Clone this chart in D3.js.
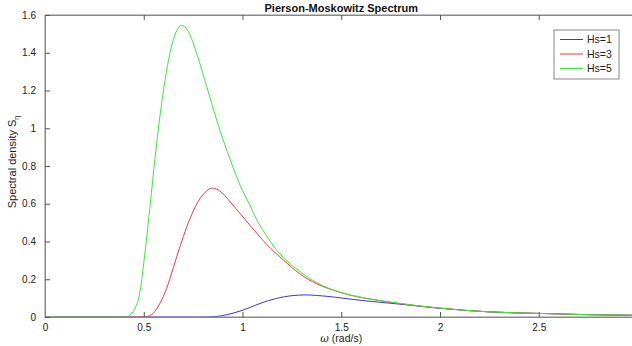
<!DOCTYPE html>
<html>
<head>
<meta charset="utf-8">
<script src="https://cdn.jsdelivr.net/npm/d3@7"></script>
<style>
  body { margin: 0; background: #fff; }
  svg { display: block; font-family: "Liberation Sans", Arial, sans-serif; }
</style>
</head>
<body>
<div id="chart"></div>
<script>
// readings, [omega (rad/s), S]
const hs1 = [[0,0],[0.80,0],[0.86,0.002],[0.92,0.012],[1.004,0.037],[1.089,0.072],[1.173,0.099],[1.25,0.113],
  [1.32,0.117],[1.376,0.114],[1.46,0.106],[1.544,0.095],[1.629,0.085],[1.797,0.068],[2.0,0.046],[2.25,0.027],
  [2.5,0.019],[2.76,0.012],[3.0,0.009]];
const hs3 = [[0,0],[0.50,0],[0.52,0.003],[0.548,0.02],[0.582,0.073],[0.616,0.152],[0.65,0.262],[0.684,0.375],
  [0.717,0.475],[0.751,0.562],[0.785,0.628],[0.819,0.668],[0.847,0.683],[0.886,0.667],[0.937,0.611],[0.987,0.549],
  [1.038,0.486],[1.122,0.385],[1.207,0.302],[1.291,0.228],[1.376,0.176],[1.46,0.142],[1.544,0.116],[1.629,0.098],
  [1.797,0.071],[2.0,0.047],[2.25,0.027],[2.5,0.019],[2.76,0.012],[3.0,0.009]];
const hs5 = [[0,0],[0.41,0],[0.425,0.005],[0.447,0.03],[0.481,0.135],[0.506,0.34],[0.532,0.59],[0.557,0.84],
  [0.582,1.065],[0.608,1.255],[0.633,1.40],[0.658,1.495],[0.692,1.545],[0.726,1.512],[0.768,1.397],[0.819,1.22],
  [0.869,1.044],[0.92,0.885],[0.953,0.79],[0.987,0.70],[1.038,0.59],[1.08,0.50],[1.122,0.43],[1.165,0.365],
  [1.207,0.315],[1.291,0.24],[1.376,0.182],[1.46,0.143],[1.544,0.117],[1.629,0.099],[1.797,0.072],[2.0,0.047],
  [2.25,0.027],[2.5,0.019],[2.76,0.012],[3.0,0.009]];
const seriesNames = ["Hs=1", "Hs=3", "Hs=5"];
const seriesColors = ["#3333ff", "#ff3333", "#33ee33"];
const xTicks = [0, 0.5, 1, 1.5, 2, 2.5, 3];
const yTicks = [0, 0.2, 0.4, 0.6, 0.8, 1, 1.2, 1.4, 1.6];

const width = 632, height = 346;
const mLeft = 45, mTop = 15, mRight = 637.5, mBottom = 317;

const svg = d3.select("#chart").append("svg")
  .attr("width", width).attr("height", height);

const x = d3.scaleLinear().domain([0, 3]).range([mLeft, mRight]);
const y = d3.scaleLinear().domain([0, 1.6]).range([mBottom, mTop]);

// curves
const line = d3.line().x(d => x(d[0])).y(d => y(d[1])).curve(d3.curveMonotoneX);
[hs1, hs3, hs5].forEach((s, i) => {
  svg.append("path").datum(s)
    .attr("fill", "none")
    .attr("stroke", seriesColors[i])
    .attr("stroke-width", 1)
    .attr("d", line);
});

// box + inward ticks on all sides
const tickLen = 5, axisColor = "#888", tickColor = "#555";
svg.append("rect").attr("x", mLeft).attr("y", mTop)
  .attr("width", mRight - mLeft).attr("height", mBottom - mTop)
  .attr("fill", "none").attr("stroke", axisColor).attr("stroke-width", 1);

const xAxisB = d3.axisBottom(x).tickValues(xTicks).tickSizeInner(-tickLen).tickSizeOuter(0)
  .tickPadding(tickLen + 3).tickFormat(d => d === 3 ? "" : d3.format("")(d));
const xAxisT = d3.axisTop(x).tickValues(xTicks).tickSizeInner(-tickLen).tickSizeOuter(0).tickFormat("");
const yAxisL = d3.axisLeft(y).tickValues(yTicks).tickSizeInner(-tickLen).tickSizeOuter(0)
  .tickPadding(tickLen + 4).tickFormat(d3.format(""));
const yAxisR = d3.axisRight(y).tickValues(yTicks).tickSizeInner(-tickLen).tickSizeOuter(0).tickFormat("");

const gs = [
  svg.append("g").attr("transform", `translate(0,${mBottom})`).call(xAxisB),
  svg.append("g").attr("transform", `translate(0,${mTop})`).call(xAxisT),
  svg.append("g").attr("transform", `translate(${mLeft},0)`).call(yAxisL),
  svg.append("g").attr("transform", `translate(${mRight},0)`).call(yAxisR)
];
gs.forEach(g => {
  g.select(".domain").attr("stroke", axisColor);
  g.selectAll(".tick line").attr("stroke", tickColor);
  g.selectAll(".tick text").attr("fill", "#222").style("font-size", "10px")
    .style("font-family", "'Liberation Sans', Arial, sans-serif");
});
gs[0].selectAll(".tick text").attr("dy", "0.6em");

// title and labels
svg.append("text").attr("x", (mLeft + mRight) / 2).attr("y", 12)
  .attr("text-anchor", "middle").style("font-size", "11px").style("font-weight", "bold")
  .attr("fill", "#111").text("Pierson-Moskowitz Spectrum");

const xl = svg.append("text").attr("x", (mLeft + mRight) / 2).attr("y", 342)
  .attr("text-anchor", "middle").style("font-size", "10.5px").attr("fill", "#222");
xl.append("tspan").style("font-style", "italic").style("font-family", "'DejaVu Serif', serif").text("ω");
xl.append("tspan").text(" (rad/s)");

const yl = svg.append("text")
  .attr("transform", `translate(16,${(mTop + mBottom) / 2 - 4}) rotate(-90)`)
  .attr("text-anchor", "middle").style("font-size", "11px").attr("fill", "#222");
yl.append("tspan").text("Spectral density S");
yl.append("tspan").attr("dy", 3).style("font-size", "7px").text("η");

// legend
const lg = svg.append("g").attr("transform", "translate(554,30)");
lg.append("rect").attr("width", 65).attr("height", 49)
  .attr("fill", "#fff").attr("stroke", axisColor);
seriesNames.forEach((n, i) => {
  const ly = 9.5 + i * 14.5;
  lg.append("line").attr("x1", 6).attr("x2", 29).attr("y1", ly).attr("y2", ly)
    .attr("stroke", seriesColors[i]).attr("stroke-width", 1);
  lg.append("text").attr("x", 33).attr("y", ly).attr("dy", "0.35em")
    .style("font-size", "10.5px").attr("fill", "#222").text(n);
});
</script>
</body>
</html>
